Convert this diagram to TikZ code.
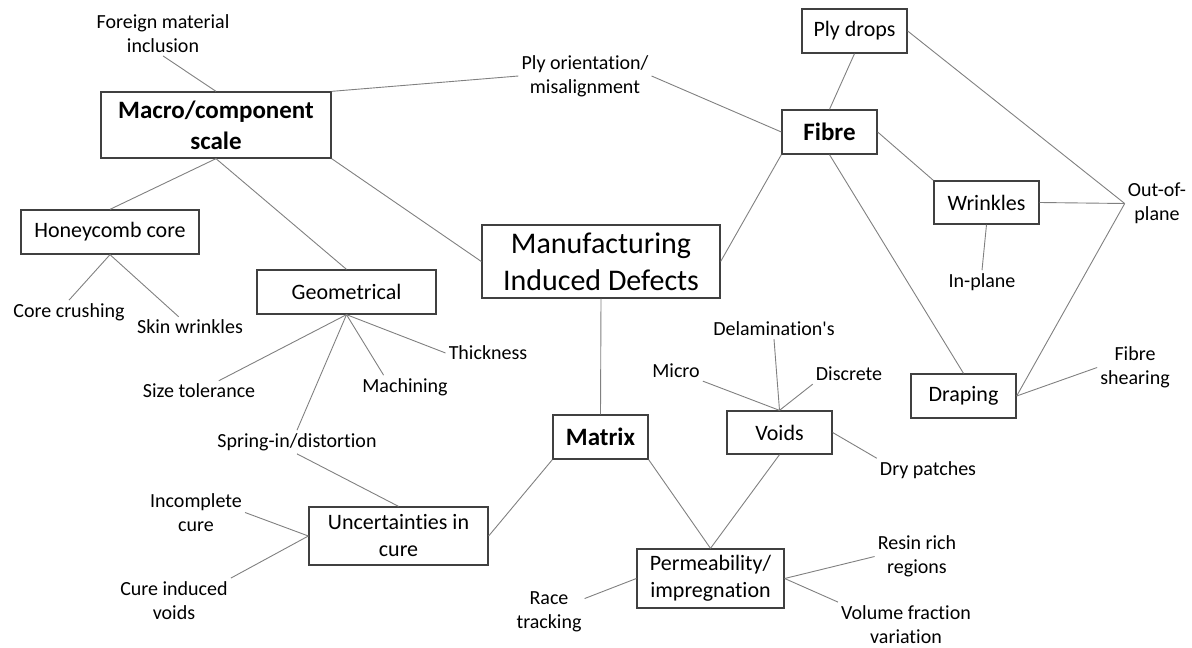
\documentclass[tikz,border=0pt]{standalone}
\usepackage{fontspec}
\setmainfont{Carlito}[Ligatures=NoCommon]
\begin{document}
\begin{tikzpicture}[x=1pt, y=-1pt,
  dbox/.style={draw=black!75, line width=1.3pt, inner sep=0pt, align=center, font=\fontsize{22}{27}\selectfont},
  lbl/.style={align=center, inner sep=3pt, font=\fontsize{20}{24.4}\selectfont},
  link/.style={draw=black!50, line width=0.9pt}]
\useasboundingbox (0,0) rectangle (1192,648);

\node[dbox, minimum width=230pt, minimum height=66pt, font=\bfseries\fontsize{25}{31}\selectfont] (macro) at (216,125) {Macro/component\\scale};
\node[dbox, minimum width=238pt, minimum height=73pt, font=\fontsize{30}{37}\selectfont] (mid) at (601,261.5) {Manufacturing\\Induced Defects};
\node[dbox, minimum width=95pt, minimum height=44pt, font=\bfseries\fontsize{25}{31}\selectfont] (fibre) at (829.5,132) {Fibre};
\node[dbox, minimum width=105pt, minimum height=44pt] (plydrops) at (854.5,31) {Ply drops};
\node[dbox, minimum width=105pt, minimum height=43pt] (wrinkles) at (986.5,202.5) {Wrinkles};
\node[dbox, minimum width=105pt, minimum height=44pt] (draping) at (963.5,396) {Draping};
\node[dbox, minimum width=178pt, minimum height=44pt] (honey) at (110,232) {Honeycomb core};
\node[dbox, minimum width=179pt, minimum height=44pt] (geom) at (346.5,292) {Geometrical};
\node[dbox, minimum width=179pt, minimum height=58pt] (unc) at (398.5,536) {Uncertainties in\\cure};
\node[dbox, minimum width=95pt, minimum height=44pt, font=\bfseries\fontsize{25}{31}\selectfont] (matrix) at (600.5,437) {Matrix};
\node[dbox, minimum width=105pt, minimum height=43pt] (voids) at (779.5,432.5) {Voids};
\node[dbox, minimum width=147pt, minimum height=59pt] (perm) at (710.5,578.5) {Permeability/\\impregnation};

\node[lbl] (foreign) at (163,33.5) {Foreign material\\inclusion};
\node[lbl] (plyor) at (585,76) {Ply orientation/\\misalignment};
\node[lbl] (outp) at (1157,203.5) {Out-of-\\plane};
\node[lbl] (inplane) at (982,282) {In-plane};
\node[lbl] (shear) at (1135,367.5) {Fibre\\shearing};
\node[lbl] (delam) at (774,329) {Delamination\textquotesingle s};
\node[lbl] (micro) at (676,371) {Micro};
\node[lbl] (discrete) at (849,374) {Discrete};
\node[lbl] (dry) at (928,470) {Dry patches};
\node[lbl] (resin) at (917,556.5) {Resin rich\\regions};
\node[lbl] (volume) at (906,624.5) {Volume fraction\\variation};
\node[lbl] (race) at (549,611.5) {Race\\tracking};
\node[lbl] (incomp) at (196,512.5) {Incomplete\\cure};
\node[lbl] (curev) at (174,600.5) {Cure induced\\voids};
\node[lbl] (spring) at (297,442) {Spring-in/distortion};
\node[lbl] (size) at (199,391) {Size tolerance};
\node[lbl] (mach) at (405,387) {Machining};
\node[lbl] (thick) at (488,353) {Thickness};
\node[lbl] (crush) at (69,312) {Core crushing};
\node[lbl] (skin) at (190,327) {Skin wrinkles};

\draw[link] (macro.north) -- (foreign.south);
\draw[link] (macro.north east) -- (plyor.west);
\draw[link] (plyor.east) -- (fibre.west);
\draw[link] (macro.south east) -- (mid.west);
\draw[link] (mid.east) -- (fibre.south west);
\draw[link] (fibre.north) -- (plydrops.south);
\draw[link] (fibre.east) -- (wrinkles.north west);
\draw[link] (fibre.south) -- (draping.north);
\draw[link] (plydrops.east) -- (outp.west);
\draw[link] (wrinkles.east) -- (outp.west);
\draw[link] (draping.east) -- (outp.west);
\draw[link] (wrinkles.south) -- (inplane.north);
\draw[link] (draping.east) -- (shear.west);
\draw[link] (mid.south) -- (matrix.north);
\draw[link] (macro.south) -- (honey.north);
\draw[link] (macro.south) -- (geom.north);
\draw[link] (honey.south) -- (crush.north);
\draw[link] (honey.south) -- (skin);
\draw[link] (geom.south) -- (size);
\draw[link] (geom.south) -- (spring.north);
\draw[link] (geom.south) -- (mach.151);
\draw[link] (geom.south) -- (thick.west);
\draw[link] (spring.south) -- (unc.north);
\draw[link] (incomp.east) -- (unc.west);
\draw[link] (curev.north east) -- (unc.west);
\draw[link] (unc.east) -- (matrix.south west);
\draw[link] (matrix.south east) -- (perm.north);
\draw[link] (voids.south) -- (perm.north);
\draw[link] (voids.north) -- (delam.south);
\draw[link] (voids.north) -- (micro.south east);
\draw[link] (voids.north) -- (discrete.south west);
\draw[link] (voids.east) -- (dry.north west);
\draw[link] (perm.west) -- (race.20);
\draw[link] (perm.east) -- (resin.west);
\draw[link] (perm.east) -- (volume.north west);
\end{tikzpicture}
\end{document}
